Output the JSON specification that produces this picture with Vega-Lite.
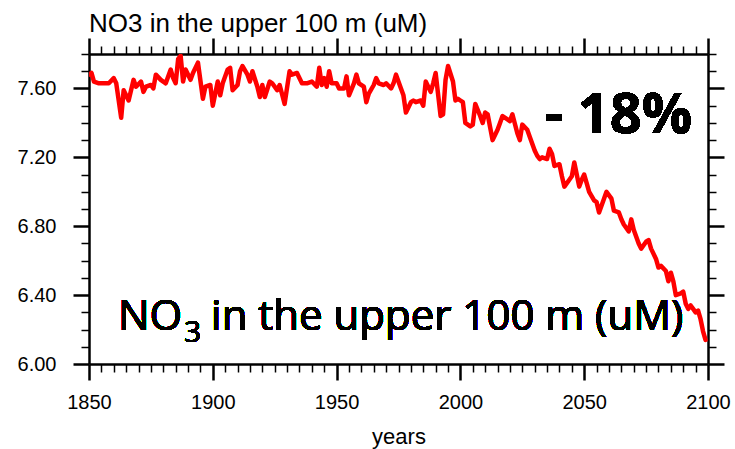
{
  "$schema": "https://vega.github.io/schema/vega-lite/v6.json",
  "width": 619,
  "height": 310,
  "autosize": {"type": "none"},
  "padding": {"left": 89, "top": 54, "right": 27, "bottom": 85},
  "background": "white",
  "title": {
    "text": "NO3 in the upper 100 m (uM)",
    "anchor": "start",
    "frame": "group",
    "font": "Liberation Sans",
    "fontSize": 26,
    "fontWeight": "normal",
    "color": "black",
    "baseline": "alphabetic",
    "offset": -21
  },
  "config": {
    "view": {"stroke": null},
    "axis": {
      "domainColor": "black",
      "domainWidth": 2.5,
      "tickColor": "black",
      "grid": false,
      "labelFont": "Liberation Sans",
      "labelFontSize": 20,
      "labelColor": "black",
      "titleFont": "Liberation Sans",
      "titleFontSize": 22,
      "titleFontWeight": "normal",
      "titleColor": "black",
      "labelOverlap": false,
      "labelBound": false,
      "labelFlush": false
    }
  },
  "data": {
    "values": [
      {"year": 1850, "no3": 7.68}, {"year": 1851, "no3": 7.69}, {"year": 1852, "no3": 7.64}, {"year": 1854, "no3": 7.63},
      {"year": 1856, "no3": 7.63}, {"year": 1858, "no3": 7.63}, {"year": 1860, "no3": 7.66}, {"year": 1861, "no3": 7.63},
      {"year": 1863, "no3": 7.43}, {"year": 1864, "no3": 7.59}, {"year": 1866, "no3": 7.53}, {"year": 1868, "no3": 7.65},
      {"year": 1869, "no3": 7.61}, {"year": 1871, "no3": 7.64}, {"year": 1872, "no3": 7.58}, {"year": 1873, "no3": 7.61},
      {"year": 1875, "no3": 7.62}, {"year": 1876, "no3": 7.60}, {"year": 1877, "no3": 7.68}, {"year": 1879, "no3": 7.65},
      {"year": 1881, "no3": 7.63}, {"year": 1883, "no3": 7.71}, {"year": 1884, "no3": 7.66}, {"year": 1885, "no3": 7.63},
      {"year": 1886, "no3": 7.77}, {"year": 1887, "no3": 7.79}, {"year": 1888, "no3": 7.64}, {"year": 1889, "no3": 7.71},
      {"year": 1891, "no3": 7.65}, {"year": 1892, "no3": 7.69}, {"year": 1894, "no3": 7.75}, {"year": 1896, "no3": 7.54},
      {"year": 1897, "no3": 7.61}, {"year": 1899, "no3": 7.62}, {"year": 1900, "no3": 7.50}, {"year": 1902, "no3": 7.64},
      {"year": 1903, "no3": 7.56}, {"year": 1904, "no3": 7.63}, {"year": 1906, "no3": 7.71}, {"year": 1907, "no3": 7.72},
      {"year": 1908, "no3": 7.59}, {"year": 1910, "no3": 7.62}, {"year": 1911, "no3": 7.70}, {"year": 1912, "no3": 7.73},
      {"year": 1914, "no3": 7.68}, {"year": 1915, "no3": 7.64}, {"year": 1916, "no3": 7.70}, {"year": 1918, "no3": 7.61},
      {"year": 1919, "no3": 7.55}, {"year": 1920, "no3": 7.62}, {"year": 1921, "no3": 7.55}, {"year": 1923, "no3": 7.64},
      {"year": 1924, "no3": 7.63}, {"year": 1926, "no3": 7.59}, {"year": 1927, "no3": 7.62}, {"year": 1929, "no3": 7.51},
      {"year": 1931, "no3": 7.70}, {"year": 1932, "no3": 7.68}, {"year": 1934, "no3": 7.69}, {"year": 1936, "no3": 7.63},
      {"year": 1938, "no3": 7.63}, {"year": 1940, "no3": 7.64}, {"year": 1942, "no3": 7.61}, {"year": 1943, "no3": 7.72},
      {"year": 1944, "no3": 7.62}, {"year": 1945, "no3": 7.66}, {"year": 1946, "no3": 7.61}, {"year": 1947, "no3": 7.70},
      {"year": 1948, "no3": 7.63}, {"year": 1950, "no3": 7.63}, {"year": 1951, "no3": 7.60}, {"year": 1953, "no3": 7.60},
      {"year": 1954, "no3": 7.67}, {"year": 1955, "no3": 7.56}, {"year": 1957, "no3": 7.63}, {"year": 1958, "no3": 7.68},
      {"year": 1959, "no3": 7.63}, {"year": 1961, "no3": 7.61}, {"year": 1962, "no3": 7.52}, {"year": 1963, "no3": 7.57},
      {"year": 1965, "no3": 7.62}, {"year": 1966, "no3": 7.66}, {"year": 1967, "no3": 7.63}, {"year": 1969, "no3": 7.62},
      {"year": 1970, "no3": 7.63}, {"year": 1972, "no3": 7.60}, {"year": 1973, "no3": 7.63}, {"year": 1974, "no3": 7.68},
      {"year": 1976, "no3": 7.60}, {"year": 1977, "no3": 7.56}, {"year": 1978, "no3": 7.46}, {"year": 1980, "no3": 7.52},
      {"year": 1981, "no3": 7.53}, {"year": 1982, "no3": 7.52}, {"year": 1984, "no3": 7.53}, {"year": 1985, "no3": 7.50},
      {"year": 1986, "no3": 7.64}, {"year": 1988, "no3": 7.58}, {"year": 1989, "no3": 7.63}, {"year": 1990, "no3": 7.69},
      {"year": 1992, "no3": 7.44}, {"year": 1993, "no3": 7.45}, {"year": 1994, "no3": 7.65}, {"year": 1995, "no3": 7.73},
      {"year": 1997, "no3": 7.64}, {"year": 1998, "no3": 7.53}, {"year": 1999, "no3": 7.54}, {"year": 2000, "no3": 7.53},
      {"year": 2001, "no3": 7.52}, {"year": 2002, "no3": 7.40}, {"year": 2004, "no3": 7.38}, {"year": 2005, "no3": 7.39},
      {"year": 2006, "no3": 7.51}, {"year": 2008, "no3": 7.44}, {"year": 2009, "no3": 7.40}, {"year": 2010, "no3": 7.46},
      {"year": 2011, "no3": 7.45}, {"year": 2013, "no3": 7.30}, {"year": 2015, "no3": 7.36}, {"year": 2016, "no3": 7.40},
      {"year": 2017, "no3": 7.44}, {"year": 2019, "no3": 7.42}, {"year": 2020, "no3": 7.41}, {"year": 2021, "no3": 7.45},
      {"year": 2023, "no3": 7.34}, {"year": 2024, "no3": 7.30}, {"year": 2025, "no3": 7.39}, {"year": 2027, "no3": 7.36},
      {"year": 2028, "no3": 7.32}, {"year": 2030, "no3": 7.24}, {"year": 2031, "no3": 7.21}, {"year": 2032, "no3": 7.19},
      {"year": 2033, "no3": 7.20}, {"year": 2035, "no3": 7.19}, {"year": 2036, "no3": 7.25}, {"year": 2037, "no3": 7.22},
      {"year": 2038, "no3": 7.15}, {"year": 2040, "no3": 7.16}, {"year": 2041, "no3": 7.09}, {"year": 2042, "no3": 7.03},
      {"year": 2044, "no3": 7.07}, {"year": 2045, "no3": 7.09}, {"year": 2046, "no3": 7.17}, {"year": 2048, "no3": 7.03},
      {"year": 2049, "no3": 7.07}, {"year": 2050, "no3": 7.10}, {"year": 2051, "no3": 7.05}, {"year": 2052, "no3": 7.00},
      {"year": 2054, "no3": 6.95}, {"year": 2055, "no3": 6.94}, {"year": 2056, "no3": 6.88}, {"year": 2058, "no3": 6.96},
      {"year": 2059, "no3": 7.00}, {"year": 2061, "no3": 6.96}, {"year": 2062, "no3": 6.89}, {"year": 2064, "no3": 6.88},
      {"year": 2065, "no3": 6.84}, {"year": 2066, "no3": 6.81}, {"year": 2068, "no3": 6.77}, {"year": 2069, "no3": 6.84},
      {"year": 2070, "no3": 6.78}, {"year": 2072, "no3": 6.70}, {"year": 2073, "no3": 6.67}, {"year": 2075, "no3": 6.71},
      {"year": 2076, "no3": 6.72}, {"year": 2077, "no3": 6.67}, {"year": 2079, "no3": 6.61}, {"year": 2080, "no3": 6.56},
      {"year": 2081, "no3": 6.57}, {"year": 2083, "no3": 6.54}, {"year": 2084, "no3": 6.48}, {"year": 2085, "no3": 6.53},
      {"year": 2086, "no3": 6.48}, {"year": 2087, "no3": 6.40}, {"year": 2089, "no3": 6.41}, {"year": 2090, "no3": 6.42},
      {"year": 2091, "no3": 6.35}, {"year": 2092, "no3": 6.32}, {"year": 2093, "no3": 6.34}, {"year": 2094, "no3": 6.32},
      {"year": 2095, "no3": 6.30}, {"year": 2096, "no3": 6.31}, {"year": 2097, "no3": 6.26}, {"year": 2098, "no3": 6.19},
      {"year": 2099, "no3": 6.14}
    ]
  },
  "layer": [
    {
      "mark": {"type": "line", "strokeOpacity": 0},
      "encoding": {
        "x": {
          "field": "year", "type": "quantitative",
          "scale": {"domain": [1850, 2100], "nice": false, "zero": false},
          "axis": {
            "orient": "bottom", "title": null, "labels": false, "domain": false,
            "values": [1855,1860,1865,1870,1875,1880,1885,1890,1895,1905,1910,1915,1920,1925,1930,1935,1940,1945,1955,1960,1965,1970,1975,1980,1985,1990,1995,2005,2010,2015,2020,2025,2030,2035,2040,2045,2055,2060,2065,2070,2075,2080,2085,2090,2095],
            "tickSize": 8, "tickWidth": 1.5
          }
        },
        "y": {
          "field": "no3", "type": "quantitative",
          "scale": {"domain": [6.0, 7.8], "nice": false, "zero": false},
          "axis": {
            "orient": "left", "title": null, "labels": false, "domain": false,
            "values": [6.1,6.2,6.3,6.5,6.6,6.7,6.9,7.0,7.1,7.3,7.4,7.5,7.7,7.8],
            "tickSize": 8, "tickWidth": 1.5
          }
        }
      }
    },
    {
      "mark": {"type": "line", "strokeOpacity": 0},
      "encoding": {
        "x": {
          "field": "year", "type": "quantitative",
          "axis": {
            "orient": "top", "title": null, "labels": false, "domain": false,
            "values": [1855,1860,1865,1870,1875,1880,1885,1890,1895,1905,1910,1915,1920,1925,1930,1935,1940,1945,1955,1960,1965,1970,1975,1980,1985,1990,1995,2005,2010,2015,2020,2025,2030,2035,2040,2045,2055,2060,2065,2070,2075,2080,2085,2090,2095],
            "tickSize": 8, "tickWidth": 1.5
          }
        },
        "y": {
          "field": "no3", "type": "quantitative",
          "axis": {
            "orient": "right", "title": null, "labels": false, "domain": false,
            "values": [6.1,6.2,6.3,6.5,6.6,6.7,6.9,7.0,7.1,7.3,7.4,7.5,7.7,7.8],
            "tickSize": 8, "tickWidth": 1.5
          }
        }
      }
    },
    {
      "mark": {"type": "line", "strokeOpacity": 0},
      "encoding": {
        "x": {
          "field": "year", "type": "quantitative",
          "axis": {
            "orient": "top", "title": null, "labels": false,
            "values": [1850, 1900, 1950, 2000, 2050, 2100],
            "tickSize": 16, "tickWidth": 2.5
          }
        },
        "y": {
          "field": "no3", "type": "quantitative",
          "axis": {
            "orient": "right", "title": null, "labels": false,
            "values": [6.0, 6.4, 6.8, 7.2, 7.6],
            "tickSize": 16, "tickWidth": 2.5
          }
        }
      }
    },
    {
      "mark": {"type": "line", "color": "#ff0000", "strokeWidth": 4.5, "strokeJoin": "round", "strokeCap": "round", "clip": true},
      "encoding": {
        "x": {
          "field": "year", "type": "quantitative",
          "axis": {
            "orient": "bottom", "title": "years", "titlePadding": 14,
            "values": [1850, 1900, 1950, 2000, 2050, 2100],
            "format": "d",
            "tickSize": 16, "tickWidth": 2.5,
            "labelPadding": 12
          }
        },
        "y": {
          "field": "no3", "type": "quantitative",
          "axis": {
            "orient": "left", "title": null,
            "values": [6.0, 6.4, 6.8, 7.2, 7.6],
            "format": ".2f",
            "tickSize": 16, "tickWidth": 2.5,
            "labelPadding": 17
          }
        }
      }
    },
    {
      "mark": {"type": "text", "text": "NO", "font": "Open Sans", "fontSize": 42, "align": "left", "baseline": "alphabetic", "color": "black"},
      "encoding": {
        "x": {"datum": 1861.7, "type": "quantitative", "axis": null},
        "y": {"datum": 6.197, "type": "quantitative", "axis": null}
      }
    },
    {
      "mark": {"type": "text", "text": "3", "font": "Open Sans", "fontSize": 30, "align": "left", "baseline": "alphabetic", "color": "black"},
      "encoding": {
        "x": {"datum": 1888.4, "type": "quantitative", "axis": null},
        "y": {"datum": 6.128, "type": "quantitative", "axis": null}
      }
    },
    {
      "mark": {"type": "text", "text": "in the upper 100 m (uM)", "font": "Open Sans", "fontSize": 42, "align": "left", "baseline": "alphabetic", "color": "black"},
      "encoding": {
        "x": {"datum": 1899.3, "type": "quantitative", "axis": null},
        "y": {"datum": 6.197, "type": "quantitative", "axis": null}
      }
    },
    {
      "mark": {"type": "text", "text": "- 18%", "font": "Open Sans", "fontSize": 56, "fontWeight": "bold", "align": "left", "baseline": "alphabetic", "color": "black"},
      "encoding": {
        "x": {"datum": 2034.2, "type": "quantitative", "axis": null},
        "y": {"datum": 7.341, "type": "quantitative", "axis": null}
      }
    }
  ],
  "resolve": {"axis": {"x": "independent", "y": "independent"}}
}
